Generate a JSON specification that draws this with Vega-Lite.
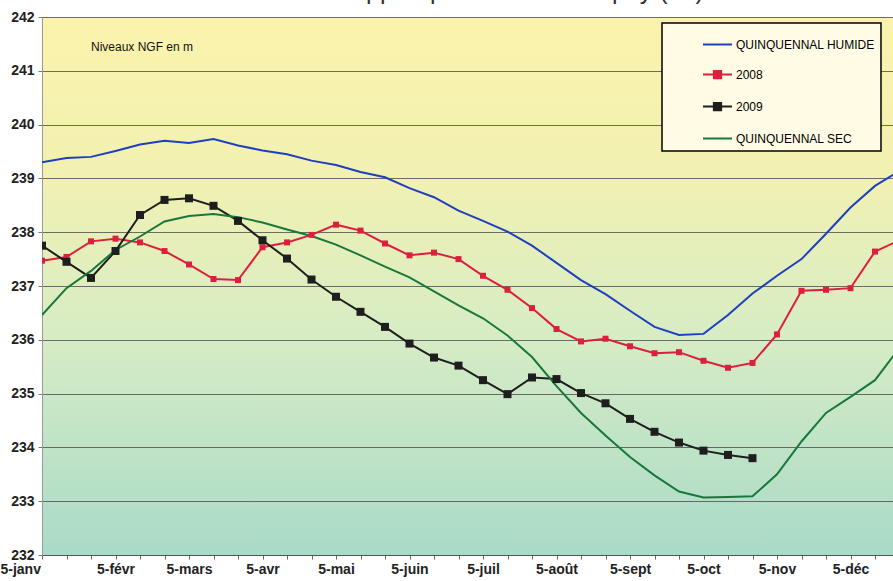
{
  "$schema": "https://vega.github.io/schema/vega-lite/v6.json",
  "width": 851,
  "height": 538,
  "autosize": {"type": "none"},
  "padding": {"left": 42, "top": 17, "right": 0, "bottom": 26},
  "background": "white",
  "title": {
    "text": "Evolution de la nappe - piézomètre de Spoy (21)",
    "fontSize": 25,
    "font": "Liberation Sans",
    "fontWeight": "normal",
    "color": "#333",
    "frame": "group",
    "anchor": "middle",
    "baseline": "alphabetic",
    "offset": 0,
    "dy": 14,
    "dx": -32
  },
  "config": {
    "font": "Liberation Sans",
    "view": {
      "stroke": null,
      "fill": {
        "gradient": "linear", "x1": 0, "y1": 0, "x2": 0, "y2": 1,
        "stops": [
          {"offset": 0, "color": "#fbf3ac"},
          {"offset": 0.3, "color": "#f1f1b2"},
          {"offset": 0.6, "color": "#d6ecc5"},
          {"offset": 1, "color": "#a9dac8"}
        ]
      }
    },
    "axisY": {"labelFontWeight": "bold"},
    "legend": {"strokeWidth": 1.5}
  },
  "data": {
    "values": [
      {"date": "5-janv", "serie": "QUINQUENNAL HUMIDE", "niveau": 239.30},
      {"date": "15-janv", "serie": "QUINQUENNAL HUMIDE", "niveau": 239.38},
      {"date": "25-janv", "serie": "QUINQUENNAL HUMIDE", "niveau": 239.40},
      {"date": "5-févr", "serie": "QUINQUENNAL HUMIDE", "niveau": 239.51},
      {"date": "15-févr", "serie": "QUINQUENNAL HUMIDE", "niveau": 239.63},
      {"date": "25-févr", "serie": "QUINQUENNAL HUMIDE", "niveau": 239.70},
      {"date": "5-mars", "serie": "QUINQUENNAL HUMIDE", "niveau": 239.66},
      {"date": "15-mars", "serie": "QUINQUENNAL HUMIDE", "niveau": 239.73},
      {"date": "25-mars", "serie": "QUINQUENNAL HUMIDE", "niveau": 239.61},
      {"date": "5-avr", "serie": "QUINQUENNAL HUMIDE", "niveau": 239.52},
      {"date": "15-avr", "serie": "QUINQUENNAL HUMIDE", "niveau": 239.45},
      {"date": "25-avr", "serie": "QUINQUENNAL HUMIDE", "niveau": 239.33},
      {"date": "5-mai", "serie": "QUINQUENNAL HUMIDE", "niveau": 239.25},
      {"date": "15-mai", "serie": "QUINQUENNAL HUMIDE", "niveau": 239.12},
      {"date": "25-mai", "serie": "QUINQUENNAL HUMIDE", "niveau": 239.02},
      {"date": "5-juin", "serie": "QUINQUENNAL HUMIDE", "niveau": 238.82},
      {"date": "15-juin", "serie": "QUINQUENNAL HUMIDE", "niveau": 238.65},
      {"date": "25-juin", "serie": "QUINQUENNAL HUMIDE", "niveau": 238.40},
      {"date": "5-juil", "serie": "QUINQUENNAL HUMIDE", "niveau": 238.21},
      {"date": "15-juil", "serie": "QUINQUENNAL HUMIDE", "niveau": 238.01},
      {"date": "25-juil", "serie": "QUINQUENNAL HUMIDE", "niveau": 237.75},
      {"date": "5-août", "serie": "QUINQUENNAL HUMIDE", "niveau": 237.43},
      {"date": "15-août", "serie": "QUINQUENNAL HUMIDE", "niveau": 237.11},
      {"date": "25-août", "serie": "QUINQUENNAL HUMIDE", "niveau": 236.85},
      {"date": "5-sept", "serie": "QUINQUENNAL HUMIDE", "niveau": 236.54},
      {"date": "15-sept", "serie": "QUINQUENNAL HUMIDE", "niveau": 236.24},
      {"date": "25-sept", "serie": "QUINQUENNAL HUMIDE", "niveau": 236.09},
      {"date": "5-oct", "serie": "QUINQUENNAL HUMIDE", "niveau": 236.11},
      {"date": "15-oct", "serie": "QUINQUENNAL HUMIDE", "niveau": 236.46},
      {"date": "25-oct", "serie": "QUINQUENNAL HUMIDE", "niveau": 236.86},
      {"date": "5-nov", "serie": "QUINQUENNAL HUMIDE", "niveau": 237.19},
      {"date": "15-nov", "serie": "QUINQUENNAL HUMIDE", "niveau": 237.50},
      {"date": "25-nov", "serie": "QUINQUENNAL HUMIDE", "niveau": 237.97},
      {"date": "5-déc", "serie": "QUINQUENNAL HUMIDE", "niveau": 238.46},
      {"date": "15-déc", "serie": "QUINQUENNAL HUMIDE", "niveau": 238.86},
      {"date": "25-déc", "serie": "QUINQUENNAL HUMIDE", "niveau": 239.14},

      {"date": "5-janv", "serie": "2008", "niveau": 237.47},
      {"date": "15-janv", "serie": "2008", "niveau": 237.54},
      {"date": "25-janv", "serie": "2008", "niveau": 237.83},
      {"date": "5-févr", "serie": "2008", "niveau": 237.88},
      {"date": "15-févr", "serie": "2008", "niveau": 237.81},
      {"date": "25-févr", "serie": "2008", "niveau": 237.65},
      {"date": "5-mars", "serie": "2008", "niveau": 237.40},
      {"date": "15-mars", "serie": "2008", "niveau": 237.13},
      {"date": "25-mars", "serie": "2008", "niveau": 237.11},
      {"date": "5-avr", "serie": "2008", "niveau": 237.72},
      {"date": "15-avr", "serie": "2008", "niveau": 237.81},
      {"date": "25-avr", "serie": "2008", "niveau": 237.95},
      {"date": "5-mai", "serie": "2008", "niveau": 238.14},
      {"date": "15-mai", "serie": "2008", "niveau": 238.03},
      {"date": "25-mai", "serie": "2008", "niveau": 237.79},
      {"date": "5-juin", "serie": "2008", "niveau": 237.57},
      {"date": "15-juin", "serie": "2008", "niveau": 237.62},
      {"date": "25-juin", "serie": "2008", "niveau": 237.50},
      {"date": "5-juil", "serie": "2008", "niveau": 237.19},
      {"date": "15-juil", "serie": "2008", "niveau": 236.93},
      {"date": "25-juil", "serie": "2008", "niveau": 236.59},
      {"date": "5-août", "serie": "2008", "niveau": 236.20},
      {"date": "15-août", "serie": "2008", "niveau": 235.97},
      {"date": "25-août", "serie": "2008", "niveau": 236.02},
      {"date": "5-sept", "serie": "2008", "niveau": 235.88},
      {"date": "15-sept", "serie": "2008", "niveau": 235.75},
      {"date": "25-sept", "serie": "2008", "niveau": 235.77},
      {"date": "5-oct", "serie": "2008", "niveau": 235.61},
      {"date": "15-oct", "serie": "2008", "niveau": 235.48},
      {"date": "25-oct", "serie": "2008", "niveau": 235.57},
      {"date": "5-nov", "serie": "2008", "niveau": 236.10},
      {"date": "15-nov", "serie": "2008", "niveau": 236.91},
      {"date": "25-nov", "serie": "2008", "niveau": 236.93},
      {"date": "5-déc", "serie": "2008", "niveau": 236.96},
      {"date": "15-déc", "serie": "2008", "niveau": 237.64},
      {"date": "25-déc", "serie": "2008", "niveau": 237.85},

      {"date": "5-janv", "serie": "2009", "niveau": 237.75},
      {"date": "15-janv", "serie": "2009", "niveau": 237.45},
      {"date": "25-janv", "serie": "2009", "niveau": 237.15},
      {"date": "5-févr", "serie": "2009", "niveau": 237.65},
      {"date": "15-févr", "serie": "2009", "niveau": 238.32},
      {"date": "25-févr", "serie": "2009", "niveau": 238.60},
      {"date": "5-mars", "serie": "2009", "niveau": 238.63},
      {"date": "15-mars", "serie": "2009", "niveau": 238.49},
      {"date": "25-mars", "serie": "2009", "niveau": 238.21},
      {"date": "5-avr", "serie": "2009", "niveau": 237.85},
      {"date": "15-avr", "serie": "2009", "niveau": 237.51},
      {"date": "25-avr", "serie": "2009", "niveau": 237.12},
      {"date": "5-mai", "serie": "2009", "niveau": 236.80},
      {"date": "15-mai", "serie": "2009", "niveau": 236.52},
      {"date": "25-mai", "serie": "2009", "niveau": 236.24},
      {"date": "5-juin", "serie": "2009", "niveau": 235.93},
      {"date": "15-juin", "serie": "2009", "niveau": 235.67},
      {"date": "25-juin", "serie": "2009", "niveau": 235.52},
      {"date": "5-juil", "serie": "2009", "niveau": 235.25},
      {"date": "15-juil", "serie": "2009", "niveau": 234.99},
      {"date": "25-juil", "serie": "2009", "niveau": 235.30},
      {"date": "5-août", "serie": "2009", "niveau": 235.27},
      {"date": "15-août", "serie": "2009", "niveau": 235.01},
      {"date": "25-août", "serie": "2009", "niveau": 234.82},
      {"date": "5-sept", "serie": "2009", "niveau": 234.53},
      {"date": "15-sept", "serie": "2009", "niveau": 234.29},
      {"date": "25-sept", "serie": "2009", "niveau": 234.09},
      {"date": "5-oct", "serie": "2009", "niveau": 233.94},
      {"date": "15-oct", "serie": "2009", "niveau": 233.86},
      {"date": "25-oct", "serie": "2009", "niveau": 233.80},

      {"date": "5-janv", "serie": "QUINQUENNAL SEC", "niveau": 236.46},
      {"date": "15-janv", "serie": "QUINQUENNAL SEC", "niveau": 236.96},
      {"date": "25-janv", "serie": "QUINQUENNAL SEC", "niveau": 237.28},
      {"date": "5-févr", "serie": "QUINQUENNAL SEC", "niveau": 237.67},
      {"date": "15-févr", "serie": "QUINQUENNAL SEC", "niveau": 237.92},
      {"date": "25-févr", "serie": "QUINQUENNAL SEC", "niveau": 238.20},
      {"date": "5-mars", "serie": "QUINQUENNAL SEC", "niveau": 238.30},
      {"date": "15-mars", "serie": "QUINQUENNAL SEC", "niveau": 238.34},
      {"date": "25-mars", "serie": "QUINQUENNAL SEC", "niveau": 238.28},
      {"date": "5-avr", "serie": "QUINQUENNAL SEC", "niveau": 238.18},
      {"date": "15-avr", "serie": "QUINQUENNAL SEC", "niveau": 238.05},
      {"date": "25-avr", "serie": "QUINQUENNAL SEC", "niveau": 237.93},
      {"date": "5-mai", "serie": "QUINQUENNAL SEC", "niveau": 237.77},
      {"date": "15-mai", "serie": "QUINQUENNAL SEC", "niveau": 237.57},
      {"date": "25-mai", "serie": "QUINQUENNAL SEC", "niveau": 237.36},
      {"date": "5-juin", "serie": "QUINQUENNAL SEC", "niveau": 237.16},
      {"date": "15-juin", "serie": "QUINQUENNAL SEC", "niveau": 236.90},
      {"date": "25-juin", "serie": "QUINQUENNAL SEC", "niveau": 236.64},
      {"date": "5-juil", "serie": "QUINQUENNAL SEC", "niveau": 236.40},
      {"date": "15-juil", "serie": "QUINQUENNAL SEC", "niveau": 236.08},
      {"date": "25-juil", "serie": "QUINQUENNAL SEC", "niveau": 235.68},
      {"date": "5-août", "serie": "QUINQUENNAL SEC", "niveau": 235.14},
      {"date": "15-août", "serie": "QUINQUENNAL SEC", "niveau": 234.64},
      {"date": "25-août", "serie": "QUINQUENNAL SEC", "niveau": 234.22},
      {"date": "5-sept", "serie": "QUINQUENNAL SEC", "niveau": 233.82},
      {"date": "15-sept", "serie": "QUINQUENNAL SEC", "niveau": 233.48},
      {"date": "25-sept", "serie": "QUINQUENNAL SEC", "niveau": 233.18},
      {"date": "5-oct", "serie": "QUINQUENNAL SEC", "niveau": 233.07},
      {"date": "15-oct", "serie": "QUINQUENNAL SEC", "niveau": 233.08},
      {"date": "25-oct", "serie": "QUINQUENNAL SEC", "niveau": 233.09},
      {"date": "5-nov", "serie": "QUINQUENNAL SEC", "niveau": 233.50},
      {"date": "15-nov", "serie": "QUINQUENNAL SEC", "niveau": 234.11},
      {"date": "25-nov", "serie": "QUINQUENNAL SEC", "niveau": 234.64},
      {"date": "5-déc", "serie": "QUINQUENNAL SEC", "niveau": 234.94},
      {"date": "15-déc", "serie": "QUINQUENNAL SEC", "niveau": 235.25},
      {"date": "25-déc", "serie": "QUINQUENNAL SEC", "niveau": 235.85}
    ]
  },
  "encoding": {
    "x": {
      "field": "date",
      "type": "ordinal",
      "scale": {
        "type": "point",
        "padding": 0,
        "range": [0, 857.5],
        "domain": ["5-janv","15-janv","25-janv","5-févr","15-févr","25-févr","5-mars","15-mars","25-mars","5-avr","15-avr","25-avr","5-mai","15-mai","25-mai","5-juin","15-juin","25-juin","5-juil","15-juil","25-juil","5-août","15-août","25-août","5-sept","15-sept","25-sept","5-oct","15-oct","25-oct","5-nov","15-nov","25-nov","5-déc","15-déc","25-déc"]
      },
      "axis": {
        "title": null,
        "grid": false,
        "labelAngle": 0,
        "labelExpr": "indexof(datum.value, '5-') === 0 ? datum.value : ''",
        "labelOverlap": false,
        "labelFlush": true,
        "labelFlushOffset": 42,
        "labelFontSize": 14,
        "labelFontWeight": "bold",
        "labelColor": "#222",
        "labelPadding": 3,
        "tickSize": 4,
        "tickColor": "#666",
        "domainColor": "#555"
      }
    },
    "y": {
      "field": "niveau",
      "type": "quantitative",
      "scale": {"domain": [232, 242], "nice": false, "zero": false},
      "axis": {
        "title": null,
        "values": [232, 233, 234, 235, 236, 237, 238, 239, 240, 241, 242],
        "labelFontSize": 14,
        "labelFontWeight": "bold",
        "labelColor": "#222",
        "labelPadding": 4,
        "tickSize": 4,
        "tickColor": "#777",
        "domainColor": "#999",
        "gridColor": "#555",
        "gridOpacity": 0.85,
        "gridWidth": 1
      }
    }
  },
  "layer": [
    {
      "mark": {"type": "line", "strokeWidth": 2, "clip": true},
      "encoding": {
        "order": {"value": null},
        "color": {
          "field": "serie",
          "type": "nominal",
          "scale": {
            "domain": ["QUINQUENNAL HUMIDE", "2008", "2009", "QUINQUENNAL SEC"],
            "range": ["#1f3fbf", "#dc1f3d", "#1e1e1e", "#18773a"]
          },
          "legend": {
            "title": null,
            "orient": "none",
            "legendX": 620,
            "legendY": 6,
            "padding": 6,
            "fillColor": "#fffbe4",
            "strokeColor": "#000000",
            "symbolSize": 841,
            "symbolStrokeWidth": 2,
            "symbolOffset": 34,
            "labelOffset": 3,
            "labelFontSize": 12,
            "labelFont": "Liberation Sans",
            "labelColor": "#000000",
            "rowPadding": 8,
            "labelExpr": "datum.label + '\u00a0\u00a0\u00a0\u00a0\u00a0\u00a0\u00a0\u00a0\u00a0'",
            "encode": {
              "symbols": {
                "update": {
                  "shape": [
                    {"test": "datum.value === '2008' || datum.value === '2009'", "value": "M-1,0H1M-0.25,-0.25H0.25V0.25H-0.25Z"},
                    {"value": "M-1,0H1"}
                  ],
                  "fill": {"scale": "color", "field": "value"},
                  "stroke": {"scale": "color", "field": "value"},
                  "strokeWidth": {"value": 2},
                  "opacity": {"value": 1}
                }
              }
            }
          }
        }
      }
    },
    {
      "transform": [{"filter": "datum.serie === '2008' || datum.serie === '2009'"}],
      "mark": {"type": "point", "shape": "square", "filled": true, "opacity": 1, "clip": true},
      "encoding": {
        "color": {"field": "serie", "type": "nominal"},
        "size": {
          "field": "serie",
          "type": "nominal",
          "scale": {"domain": ["2008", "2009"], "range": [36, 64]},
          "legend": null
        }
      }
    },
    {
      "data": {"values": [{"label": "Niveaux NGF en m", "date": "25-janv", "niveau": 241.44}]},
      "mark": {"type": "text", "align": "left", "baseline": "middle", "fontSize": 12, "font": "Liberation Sans", "color": "#111"},
      "encoding": {
        "text": {"field": "label", "type": "nominal"}
      }
    }
  ]
}
